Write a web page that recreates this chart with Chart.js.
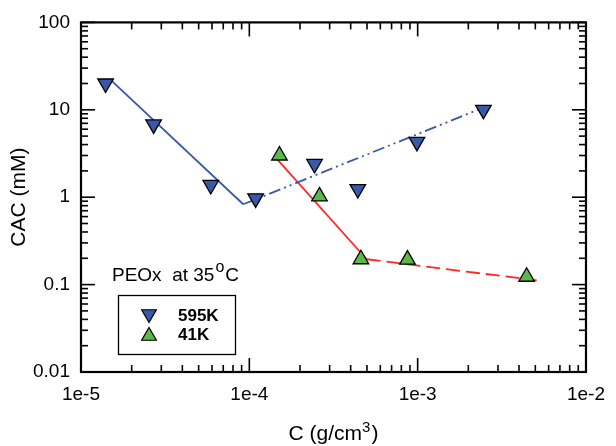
<!DOCTYPE html>
<html>
<head>
<meta charset="utf-8">
<script src="https://cdn.jsdelivr.net/npm/chart.js@4.4.1/dist/chart.umd.min.js"></script>
<style>
  html, body { margin: 0; padding: 0; background: #fff; }
  #wrap { width: 616px; height: 446px; }
</style>
</head>
<body>
<div id="wrap"><canvas id="c" width="616" height="446"></canvas></div>
<script>
// Measured CAC values for PEOx at 35 °C
const conc595K = [1.40e-5, 2.70e-5, 5.9e-5, 1.09e-4, 2.44e-4, 4.41e-4, 9.9e-4, 2.46e-3];
const cac595K  = [20, 6.8, 1.38, 0.97, 2.4, 1.24, 4.3, 10];
const conc41K  = [1.51e-4, 2.61e-4, 4.6e-4, 8.7e-4, 4.44e-3];
const cac41K   = [3.0, 1.02, 0.195, 0.193, 0.123];

// Fitted trend segments
const fit595KLowX  = [1.5e-5, 9.2e-5];
const fit595KLowY  = [22, 0.83];
const fit595KHighX = [9.2e-5, 2.40e-3];
const fit595KHighY = [0.83, 10.4];
const fit41KLowX   = [1.43e-4, 4.98e-4];
const fit41KLowY   = [2.85, 0.195];
const fit41KHighX  = [4.98e-4, 5.1e-3];
const fit41KHighY  = [0.195, 0.112];

// Axis tick values and labels
const xMajorTicks = [1e-5, 1e-4, 1e-3, 1e-2];
const xTickLabels = ['1e-5', '1e-4', '1e-3', '1e-2'];
const yMajorTicks = [0.01, 0.1, 1, 10, 100];
const yTickLabels = ['0.01', '0.1', '1', '10', '100'];

const BLUE = '#3a58a8';
const GREEN = '#5cb848';
const RED = '#ff2626';
const FONT = '"Liberation Sans", Arial, sans-serif';
const MARKER_R = 9;

const pts = (xs, ys) => xs.map((x, i) => ({ x: x, y: ys[i] }));

function minorsFor(majors) {
  const out = [];
  for (let i = 0; i < majors.length - 1; i++) {
    for (let m = 2; m <= 9; m++) out.push(majors[i] * m);
  }
  return out;
}

// Draws text runs left to right; each run may be raised as a superscript
function drawRuns(ctx, runs, x, y) {
  runs.forEach(r => {
    ctx.font = r.font;
    ctx.fillText(r.text, x, y - (r.rise || 0));
    x += ctx.measureText(r.text).width + (r.gap || 0);
  });
}
function runsWidth(ctx, runs) {
  let w = 0;
  runs.forEach(r => { ctx.font = r.font; w += ctx.measureText(r.text).width + (r.gap || 0); });
  return w;
}

// Frame with inward major/minor ticks on all four sides
const framePlugin = {
  id: 'frame',
  beforeDatasetsDraw(chart) {
    const { ctx, chartArea: a, scales } = chart;
    const xs = scales.x, ys = scales.y;
    ctx.save();
    ctx.strokeStyle = '#000';
    ctx.lineWidth = 1.6;
    const tick = (x1, y1, x2, y2) => { ctx.beginPath(); ctx.moveTo(x1, y1); ctx.lineTo(x2, y2); ctx.stroke(); };
    const MAJ = 14, MIN = 7;
    xMajorTicks.forEach(v => {
      const p = xs.getPixelForValue(v);
      tick(p, a.bottom, p, a.bottom - MAJ);
      tick(p, a.top, p, a.top + MAJ);
    });
    minorsFor(xMajorTicks).forEach(v => {
      const p = xs.getPixelForValue(v);
      tick(p, a.bottom, p, a.bottom - MIN);
      tick(p, a.top, p, a.top + MIN);
    });
    yMajorTicks.forEach(v => {
      const p = ys.getPixelForValue(v);
      tick(a.left, p, a.left + MAJ, p);
      tick(a.right, p, a.right - MAJ, p);
    });
    minorsFor(yMajorTicks).forEach(v => {
      const p = ys.getPixelForValue(v);
      tick(a.left, p, a.left + MIN, p);
      tick(a.right, p, a.right - MIN, p);
    });
    ctx.lineWidth = 2.2;
    ctx.strokeRect(a.left, a.top, a.right - a.left, a.bottom - a.top);
    ctx.restore();
  },
  afterDraw(chart) {
    const { ctx, chartArea: a } = chart;
    ctx.save();
    ctx.fillStyle = '#000';
    ctx.textBaseline = 'alphabetic';

    // x-axis title with superscript 3
    const xTitle = [
      { text: 'C (g/cm', font: '21px ' + FONT },
      { text: '3', font: '15px ' + FONT, rise: 8, gap: 1 },
      { text: ')', font: '21px ' + FONT }
    ];
    const cx = (a.left + a.right) / 2;
    drawRuns(ctx, xTitle, cx - runsWidth(ctx, xTitle) / 2, 440);

    // Annotation "PEOx  at 35 oC" with a raised o
    drawRuns(ctx, [
      { text: 'PEOx  at 35', font: '19px ' + FONT, gap: 1 },
      { text: 'o', font: '16px ' + FONT, rise: 9, gap: 1 },
      { text: 'C', font: '19px ' + FONT }
    ], 112, 281);

    // Legend box
    ctx.lineWidth = 1.3;
    ctx.strokeStyle = '#000';
    ctx.strokeRect(118.5, 295.5, 117, 59);
    const entries = [
      { label: '595K', color: BLUE, rot: 180, y: 314, ty: 316 },
      { label: '41K', color: GREEN, rot: 0, y: 336, ty: 335 }
    ];
    entries.forEach(e => {
      ctx.fillStyle = e.color;
      ctx.strokeStyle = '#000';
      ctx.lineWidth = 1.2;
      Chart.helpers.drawPoint(ctx, { pointStyle: 'triangle', rotation: e.rot, radius: 8.5, borderWidth: 1.2 }, 149, e.y);
      ctx.fillStyle = '#000';
      ctx.font = 'bold 17px ' + FONT;
      ctx.textBaseline = 'middle';
      ctx.fillText(e.label, 178, e.ty);
    });
    ctx.restore();
  }
};

const lineDs = (xs, ys, color, dash) => ({
  data: pts(xs, ys),
  showLine: true,
  borderColor: color,
  borderWidth: 1.8,
  borderDash: dash,
  pointRadius: 0,
  pointHoverRadius: 0,
  fill: false,
  order: 2
});

const pointDs = (xs, ys, color, rot) => ({
  data: pts(xs, ys),
  showLine: false,
  pointStyle: 'triangle',
  rotation: rot,
  pointRadius: MARKER_R,
  pointBackgroundColor: color,
  pointBorderColor: '#000',
  pointBorderWidth: 1.3,
  order: 1
});

new Chart(document.getElementById('c'), {
  type: 'scatter',
  data: {
    datasets: [
      lineDs(fit595KLowX, fit595KLowY, BLUE, []),
      lineDs(fit595KHighX, fit595KHighY, BLUE, [12, 4, 2, 4, 2, 4]),
      lineDs(fit41KLowX, fit41KLowY, RED, []),
      lineDs(fit41KHighX, fit41KHighY, RED, [14, 6]),
      pointDs(conc595K, cac595K, BLUE, 180),
      pointDs(conc41K, cac41K, GREEN, 0)
    ]
  },
  options: {
    responsive: false,
    animation: false,
    devicePixelRatio: 1,
    layout: { padding: { left: 0, top: 19, right: 21, bottom: 0 } },
    plugins: { legend: { display: false }, tooltip: { enabled: false } },
    scales: {
      x: {
        type: 'logarithmic',
        min: 1e-5, max: 1e-2,
        afterBuildTicks: s => { s.ticks = xMajorTicks.map(v => ({ value: v })); },
        afterFit: s => { s.height = 74; },
        grid: { drawOnChartArea: false, drawTicks: false },
        border: { display: false },
        ticks: {
          padding: 11,
          autoSkip: false,
          maxRotation: 0,
          color: '#000',
          font: { family: FONT, size: 19 },
          callback: (v) => { const i = xMajorTicks.findIndex(t => Math.abs(t - v) / t < 1e-6); return i >= 0 ? xTickLabels[i] : ''; }
        },
        title: { display: false }
      },
      y: {
        type: 'logarithmic',
        min: 0.01, max: 100,
        afterBuildTicks: s => { s.ticks = yMajorTicks.map(v => ({ value: v })); },
        afterFit: s => { s.width = 81; },
        grid: { drawOnChartArea: false, drawTicks: false },
        border: { display: false },
        ticks: {
          padding: 11,
          autoSkip: false,
          color: '#000',
          font: { family: FONT, size: 19 },
          callback: (v) => { const i = yMajorTicks.findIndex(t => Math.abs(t - v) / t < 1e-6); return i >= 0 ? yTickLabels[i] : ''; }
        },
        title: {
          display: true,
          text: 'CAC (mM)',
          color: '#000',
          font: { family: FONT, size: 21 },
          padding: { top: 7, bottom: 0 }
        }
      }
    }
  },
  plugins: [framePlugin]
});
</script>
</body>
</html>
